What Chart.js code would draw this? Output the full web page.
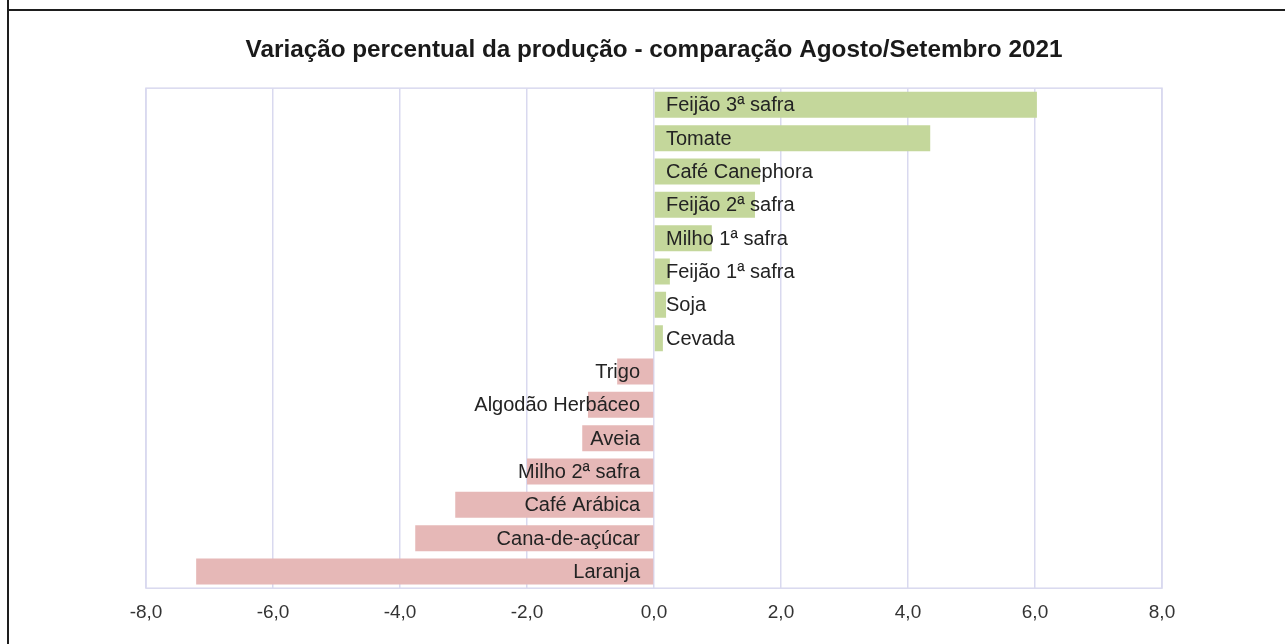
<!DOCTYPE html>
<html>
<head>
<meta charset="utf-8">
<title>Variação percentual da produção</title>
<script src="https://cdn.jsdelivr.net/npm/chart.js@4.4.1/dist/chart.umd.min.js"></script>
<style>
    html, body { margin: 0; padding: 0; background: #fff; }
    #wrap { position: relative; width: 1285px; height: 644px; }
    #frame-top { position: absolute; left: 7px; right: 0; top: 9px; height: 2px; background: #1e1e1e; }
    #frame-left { position: absolute; left: 7px; top: 0; bottom: 0; width: 2px; background: #1e1e1e; }
</style>
</head>
<body>
<div id="wrap">
    <canvas id="chart" width="1285" height="644"></canvas>
    <div id="frame-top"></div>
    <div id="frame-left"></div>
</div>
<script>
// crops, top to bottom
const culturas = [
    'Feijão 3ª safra', 'Tomate', 'Café Canephora', 'Feijão 2ª safra',
    'Milho 1ª safra', 'Feijão 1ª safra', 'Soja', 'Cevada',
    'Trigo', 'Algodão Herbáceo', 'Aveia', 'Milho 2ª safra',
    'Café Arábica', 'Cana-de-açúcar', 'Laranja'
];
// variação % Agosto -> Setembro 2021
const variacao = [
    6.03, 4.35, 1.67, 1.59,
    0.91, 0.25, 0.19, 0.14,
    -0.58, -1.04, -1.13, -2.0,
    -3.13, -3.76, -7.21
];
const xTicks = [-8, -6, -4, -2, 0, 2, 4, 6, 8];

const VERDE = '#c4d79b';
const ROSA = '#e6b8b7';
const GRADE = '#d9d9ef';
const FONTE = '"Liberation Sans", Arial, sans-serif';

// labels drawn inside the bars, next to the zero line
const barLabels = {
    id: 'barLabels',
    afterDatasetsDraw(chart) {
        const ctx = chart.ctx;
        const x0 = chart.scales.x.getPixelForValue(0);
        const meta = chart.getDatasetMeta(0);
        ctx.save();
        ctx.font = '20px ' + FONTE;
        ctx.fillStyle = '#232323';
        ctx.textBaseline = 'middle';
        meta.data.forEach((bar, i) => {
            if (variacao[i] >= 0) {
                ctx.textAlign = 'left';
                ctx.fillText(culturas[i], x0 + 12, bar.y + 1);
            } else {
                ctx.textAlign = 'right';
                ctx.fillText(culturas[i], x0 - 14, bar.y + 1);
            }
        });
        ctx.restore();
    }
};

// plot area outline
const plotBorder = {
    id: 'plotBorder',
    beforeDatasetsDraw(chart) {
        const a = chart.chartArea;
        const ctx = chart.ctx;
        ctx.save();
        ctx.strokeStyle = GRADE;
        ctx.lineWidth = 1.5;
        ctx.strokeRect(a.left, a.top, a.right - a.left, a.bottom - a.top);
        ctx.restore();
    }
};

const ctx = document.getElementById('chart').getContext('2d');
new Chart(ctx, {
    type: 'bar',
    data: {
        labels: culturas,
        datasets: [{
            data: variacao,
            backgroundColor: variacao.map(v => v >= 0 ? VERDE : ROSA),
            borderWidth: 0,
            barPercentage: 0.78,
            categoryPercentage: 1.0
        }]
    },
    options: {
        indexAxis: 'y',
        responsive: false,
        animation: false,
        layout: {
            padding: { left: 146, right: 123, top: 0, bottom: 7 }
        },
        plugins: {
            legend: { display: false },
            tooltip: { enabled: false },
            title: {
                display: true,
                text: 'Variação percentual da produção - comparação Agosto/Setembro 2021',
                color: '#1a1a1a',
                font: { family: FONTE, size: 24.3, weight: 'bold' },
                padding: { top: 36, bottom: 23 }
            }
        },
        scales: {
            x: {
                min: -8,
                max: 8,
                afterBuildTicks: (scale) => {
                    scale.ticks = xTicks.map(v => ({ value: v }));
                },
                grid: { color: GRADE, lineWidth: 1.5, drawTicks: false },
                border: { display: false },
                ticks: {
                    padding: 13,
                    color: '#333',
                    font: { family: FONTE, size: 19 },
                    callback: (v) => Number(v).toFixed(1).replace('.', ',')
                }
            },
            y: {
                display: false
            }
        }
    },
    plugins: [plotBorder, barLabels]
});
</script>
</body>
</html>
